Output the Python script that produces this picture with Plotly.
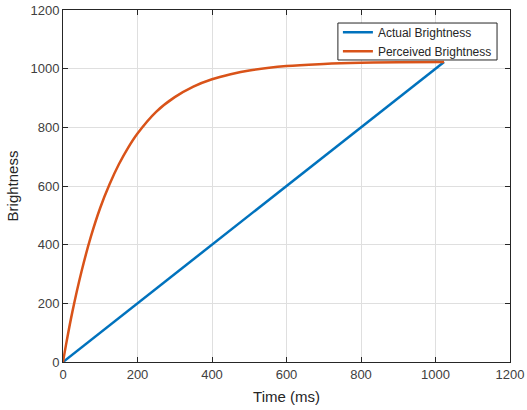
import plotly.graph_objects as go

time_actual = [0, 1023]
brightness_actual = [0, 1023]

time_perceived = [0, 10, 25, 50, 75, 100, 125, 150, 175, 200, 250, 300, 350, 400, 450, 500, 600, 700, 800, 900, 1023]
brightness_perceived = [0, 72, 170, 310, 428, 526, 606, 674, 731, 779, 853, 903, 939, 964, 981, 994, 1009, 1016, 1020, 1022, 1023]

x_ticks = [0, 200, 400, 600, 800, 1000, 1200]
y_ticks = [0, 200, 400, 600, 800, 1000, 1200]

FONT = "Liberation Sans, Arial"

fig = go.Figure()
fig.add_trace(go.Scatter(x=time_actual, y=brightness_actual, mode="lines",
                         name="Actual Brightness", line=dict(color="#0072BD", width=2.5)))
fig.add_trace(go.Scatter(x=time_perceived, y=brightness_perceived, mode="lines",
                         name="Perceived Brightness", line=dict(color="#D95319", width=2.5, shape="spline", smoothing=1)))

axis_common = dict(range=[0, 1200], showgrid=True, gridcolor="#DFDFDF", gridwidth=1,
                   showline=True, linecolor="#262626", linewidth=1, mirror="allticks",
                   ticks="inside", ticklen=5, tickcolor="#262626", zeroline=False,
                   automargin=False,
                   tickfont=dict(family=FONT, size=13, color="#404040"))

# legend frame (MATLAB style)
fig.add_shape(type="rect", xref="paper", yref="paper",
              x0=0.615, x1=0.971, y0=0.858, y1=0.963,
              fillcolor="white", line=dict(color="#262626", width=1), layer="above")

fig.update_layout(
    width=527, height=410,
    margin=dict(l=63, r=17, t=10, b=48),
    paper_bgcolor="white", plot_bgcolor="white",
    showlegend=True,
    legend=dict(x=0.615, y=0.978, xanchor="left", yanchor="top",
                bgcolor="rgba(0,0,0,0)", borderwidth=0,
                font=dict(family=FONT, size=12, color="#262626"),
                tracegroupgap=0, itemwidth=30),
    xaxis=dict(**axis_common, tickvals=x_ticks,
               title=dict(text="Time (ms)", font=dict(family=FONT, size=15, color="#262626"), standoff=10)),
    yaxis=dict(**axis_common, tickvals=y_ticks,
               title=dict(text="Brightness", font=dict(family=FONT, size=15, color="#262626"), standoff=8)),
)

fig.write_html("out.html", config={"displayModeBar": False},
               post_script="document.body.style.margin='0';")
